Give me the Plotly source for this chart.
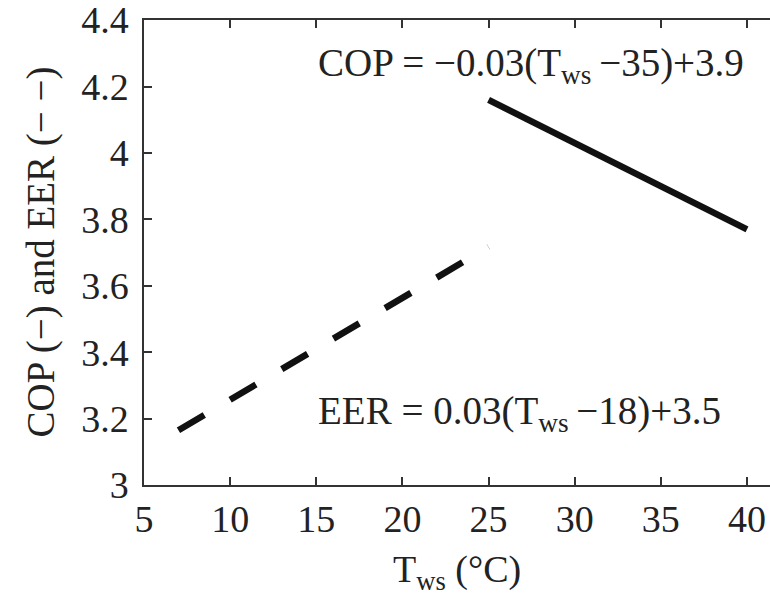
import plotly.graph_objects as go

# Data
cop_t = [25, 40]
cop_vals = [4.16, 3.77]
eer_t = [7, 25]
eer_vals = [3.165, 3.717]

x_ticks = [5, 10, 15, 20, 25, 30, 35, 40]
y_ticks = [3, 3.2, 3.4, 3.6, 3.8, 4, 4.2, 4.4]
y_tick_labels = ["3", "3.2", "3.4", "3.6", "3.8", "4", "4.2", "4.4"]

cop_label = "COP = \u22120.03(T<sub>ws</sub>\u2009\u221235)+3.9"
eer_label = "EER = 0.03(T<sub>ws</sub>\u2009\u221218)+3.5"
x_title = "T<sub>ws</sub> (\u00b0C)"
y_title = "COP (\u2212) and EER (\u2212 \u2212)"

FONT = "Liberation Serif, Times New Roman, serif"
TXT = "#222222"
AX = "#333333"

fig = go.Figure()
fig.add_trace(go.Scatter(x=cop_t, y=cop_vals, mode="lines",
                         line=dict(color="#111111", width=6.5), showlegend=False))
fig.add_trace(go.Scatter(x=eer_t, y=eer_vals, mode="lines",
                         line=dict(color="#111111", width=6.5, dash="30px,30px"),
                         showlegend=False))

fig.update_layout(
    width=770, height=605,
    margin=dict(l=144, r=0, t=20, b=120, autoexpand=False),
    paper_bgcolor="white", plot_bgcolor="white",
    font=dict(family=FONT, size=38, color=TXT),
    xaxis=dict(range=[5, 41.335], tickvals=x_ticks, ticks="inside", ticklen=8,
               tickwidth=1.5, tickcolor=AX, showline=True, linecolor=AX, linewidth=1.5,
               mirror="ticks", showgrid=False, zeroline=False, automargin=False,
               tickfont=dict(family=FONT, size=38, color=TXT), ticklabelstandoff=0),
    yaxis=dict(range=[3, 4.4005], tickvals=y_ticks, ticktext=y_tick_labels,
               ticks="inside", ticklen=8, tickwidth=1.5, tickcolor=AX,
               showline=True, linecolor=AX, linewidth=1.5, mirror=False,
               showgrid=False, zeroline=False, automargin=False,
               ticklabeloverflow="allow",
               tickfont=dict(family=FONT, size=38, color=TXT), ticklabelstandoff=6),
)

fig.add_annotation(x=15.0, y=4.262, xref="x", yref="y", text=cop_label,
                   showarrow=False, xanchor="left", yanchor="middle",
                   font=dict(family=FONT, size=39, color=TXT))
fig.add_annotation(x=15.0, y=3.215, xref="x", yref="y", text=eer_label,
                   showarrow=False, xanchor="left", yanchor="middle",
                   font=dict(family=FONT, size=39, color=TXT))
fig.add_annotation(x=0.5, y=0, xref="paper", yref="paper", text=x_title,
                   showarrow=False, xanchor="center", yanchor="top", yshift=-61,
                   font=dict(family=FONT, size=38, color=TXT))
fig.add_annotation(x=0, y=0.5, xref="paper", yref="paper", text=y_title,
                   showarrow=False, textangle=-90, xanchor="center", yanchor="middle",
                   xshift=-104, font=dict(family=FONT, size=39, color=TXT))

fig.write_html("out.html", config={"displayModeBar": False},
               post_script="document.body.style.margin='0';")
